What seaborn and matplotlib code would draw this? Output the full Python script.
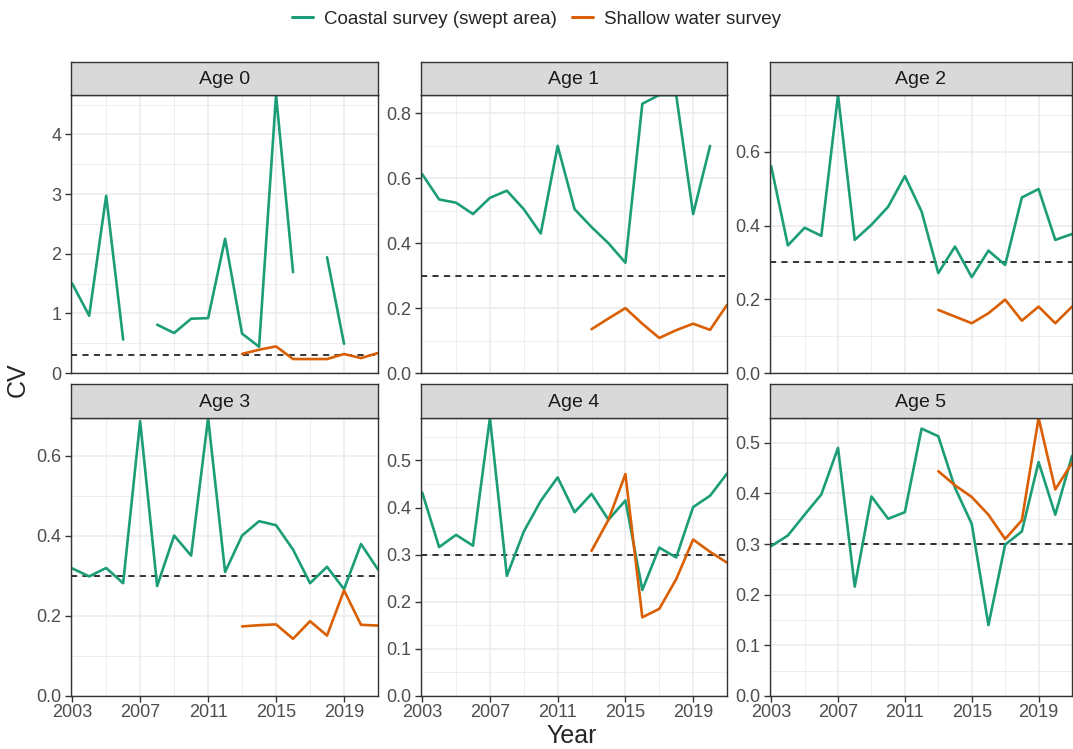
import numpy as np
import pandas as pd
import matplotlib
matplotlib.use("Agg")
import matplotlib.pyplot as plt
import seaborn as sns
from matplotlib.ticker import MultipleLocator, FormatStrFormatter
from matplotlib.lines import Line2D

sns.set_theme(style="white")
plt.rcParams["font.family"] = ["Liberation Sans", "DejaVu Sans"]

# Data (CV by year, per age class)
years = list(range(2003, 2022))
ages = ["Age 0", "Age 1", "Age 2", "Age 3", "Age 4", "Age 5"]
nan = np.nan

coastal_age0 = [1.50, 0.96, 2.97, 0.56, nan, 0.81, 0.67, 0.91, 0.92, 2.25,
                0.66, 0.44, 4.66, 1.69, nan, 1.94, 0.49, nan, nan]
coastal_age1 = [0.613, 0.535, 0.525, 0.490, 0.540, 0.562, 0.505, 0.430, 0.700, 0.505,
                0.450, 0.400, 0.340, 0.830, 0.857, 0.857, 0.490, 0.700, nan]
coastal_age2 = [0.561, 0.346, 0.394, 0.372, 0.754, 0.361, 0.402, 0.451, 0.534, 0.438,
                0.271, 0.343, 0.260, 0.332, 0.293, 0.476, 0.499, 0.361, 0.377]
coastal_age3 = [0.319, 0.299, 0.320, 0.282, 0.687, 0.275, 0.401, 0.351, 0.695, 0.310,
                0.401, 0.437, 0.427, 0.366, 0.282, 0.323, 0.267, 0.380, 0.316]
coastal_age4 = [0.432, 0.316, 0.342, 0.319, 0.590, 0.255, 0.349, 0.414, 0.464, 0.390,
                0.429, 0.374, 0.415, 0.225, 0.315, 0.294, 0.401, 0.425, 0.472]
coastal_age5 = [0.296, 0.317, 0.358, 0.398, 0.490, 0.216, 0.394, 0.350, 0.363, 0.528,
                0.513, 0.411, 0.340, 0.140, 0.299, 0.325, 0.462, 0.358, 0.474]

shallow_years = list(range(2013, 2022))
shallow_age0 = [0.32, 0.39, 0.446, 0.234, 0.234, 0.234, 0.318, 0.25, 0.335]
shallow_age1 = [0.135, 0.168, 0.200, 0.152, 0.108, 0.132, 0.152, 0.133, 0.210]
shallow_age2 = [0.171, 0.153, 0.135, 0.162, 0.199, 0.142, 0.180, 0.135, 0.180]
shallow_age3 = [0.174, 0.177, 0.179, 0.143, 0.187, 0.151, 0.264, 0.178, 0.176]
shallow_age4 = [0.308, 0.374, 0.471, 0.167, 0.185, 0.248, 0.332, 0.306, 0.283]
shallow_age5 = [0.444, 0.416, 0.393, 0.358, 0.310, 0.347, 0.549, 0.408, 0.460]

coastal = [coastal_age0, coastal_age1, coastal_age2, coastal_age3, coastal_age4, coastal_age5]
shallow = [shallow_age0, shallow_age1, shallow_age2, shallow_age3, shallow_age4, shallow_age5]

survey_names = ["Coastal survey (swept area)", "Shallow water survey"]
colors = {"Coastal survey (swept area)": "#1B9E77", "Shallow water survey": "#D95F02"}
target_cv = 0.3

# Build a long table; 'seg' breaks lines at missing years
rows = []
for age, cv_c, cv_s in zip(ages, coastal, shallow):
    seg = 0
    for y, v in zip(years, cv_c):
        if np.isnan(v):
            seg += 1
            continue
        rows.append((age, survey_names[0], y, v, "c%d" % seg))
    for y, v in zip(shallow_years, cv_s):
        rows.append((age, survey_names[1], y, v, "s0"))
df = pd.DataFrame(rows, columns=["age", "survey", "year", "cv", "seg"])

W, H = 1073, 749
fig = plt.figure(figsize=(W / 100, H / 100), dpi=100)

cols = [(71, 378), (421, 727), (770, 1072)]
rws = [(62, 95, 373), (384, 418, 696)]
ytick_step = {"Age 0": (1, 0.5, "%d"), "Age 1": (0.2, 0.1, "%.1f"), "Age 2": (0.2, 0.1, "%.1f"),
              "Age 3": (0.2, 0.1, "%.1f"), "Age 4": (0.1, 0.05, "%.1f"), "Age 5": (0.1, 0.05, "%.1f")}

for i, age in enumerate(ages):
    r, c = divmod(i, 3)
    left, right = cols[c]
    stop, sbot, pbot = rws[r]
    ax = fig.add_axes([left / W, 1 - pbot / H, (right - left) / W, (pbot - sbot) / H])
    sub = df[df["age"] == age]
    sns.lineplot(data=sub, x="year", y="cv", hue="survey", units="seg", estimator=None,
                 palette=colors, hue_order=survey_names, linewidth=1.9, legend=False, ax=ax)
    ax.axhline(target_cv, color="black", lw=1.1, ls=(0, (4, 3.5)), zorder=1)
    ax.set_xlim(2002.93, 2021)
    ax.set_ylim(0, sub["cv"].max())
    major, minor, fmt = ytick_step[age]
    ax.yaxis.set_major_locator(MultipleLocator(major))
    ax.yaxis.set_minor_locator(MultipleLocator(minor))
    ax.yaxis.set_major_formatter(FormatStrFormatter(fmt))
    ax.set_xticks([2003, 2007, 2011, 2015, 2019])
    ax.set_xticks([2005, 2009, 2013, 2017, 2021], minor=True)
    ax.grid(which="major", color="#EBEBEB", lw=1.1)
    ax.grid(which="minor", color="#EBEBEB", lw=0.6)
    ax.set_axisbelow(True)
    for s in ax.spines.values():
        s.set_color("#333333")
        s.set_linewidth(1.0)
    ax.tick_params(which="major", axis="y", left=True, length=4, width=1, color="#333333",
                   labelsize=13, labelcolor="#4D4D4D", pad=3)
    ax.tick_params(which="minor", length=0)
    if r == 1:
        ax.tick_params(which="major", axis="x", bottom=True, length=4, width=1, color="#333333",
                       labelsize=13, labelcolor="#4D4D4D", pad=2)
    else:
        ax.tick_params(axis="x", bottom=False, labelbottom=False)
    ax.set_xlabel("")
    ax.set_ylabel("")

    # facet strip
    sax = fig.add_axes([left / W, 1 - sbot / H, (right - left) / W, (sbot - stop) / H])
    sax.set_facecolor("#D9D9D9")
    sax.set_xticks([])
    sax.set_yticks([])
    for s in sax.spines.values():
        s.set_color("#333333")
        s.set_linewidth(1.0)
    sax.text(0.5, 0.47, age, ha="center", va="center", fontsize=14, color="#1A1A1A",
             transform=sax.transAxes)

fig.text(572 / W, 1 - 736 / H, "Year", ha="center", va="center", fontsize=18)
fig.text(18 / W, 1 - 380 / H, "CV", ha="center", va="center", rotation=90, fontsize=18)

handles = [Line2D([], [], color=colors[n], lw=2.2) for n in survey_names]
fig.legend(handles, survey_names, loc="center", bbox_to_anchor=(0.5, 1 - 19 / H), ncol=2,
           frameon=False, fontsize=13.5, handlelength=1.1, handletextpad=0.6, columnspacing=0.8)

fig.savefig("out.png", dpi=100)
